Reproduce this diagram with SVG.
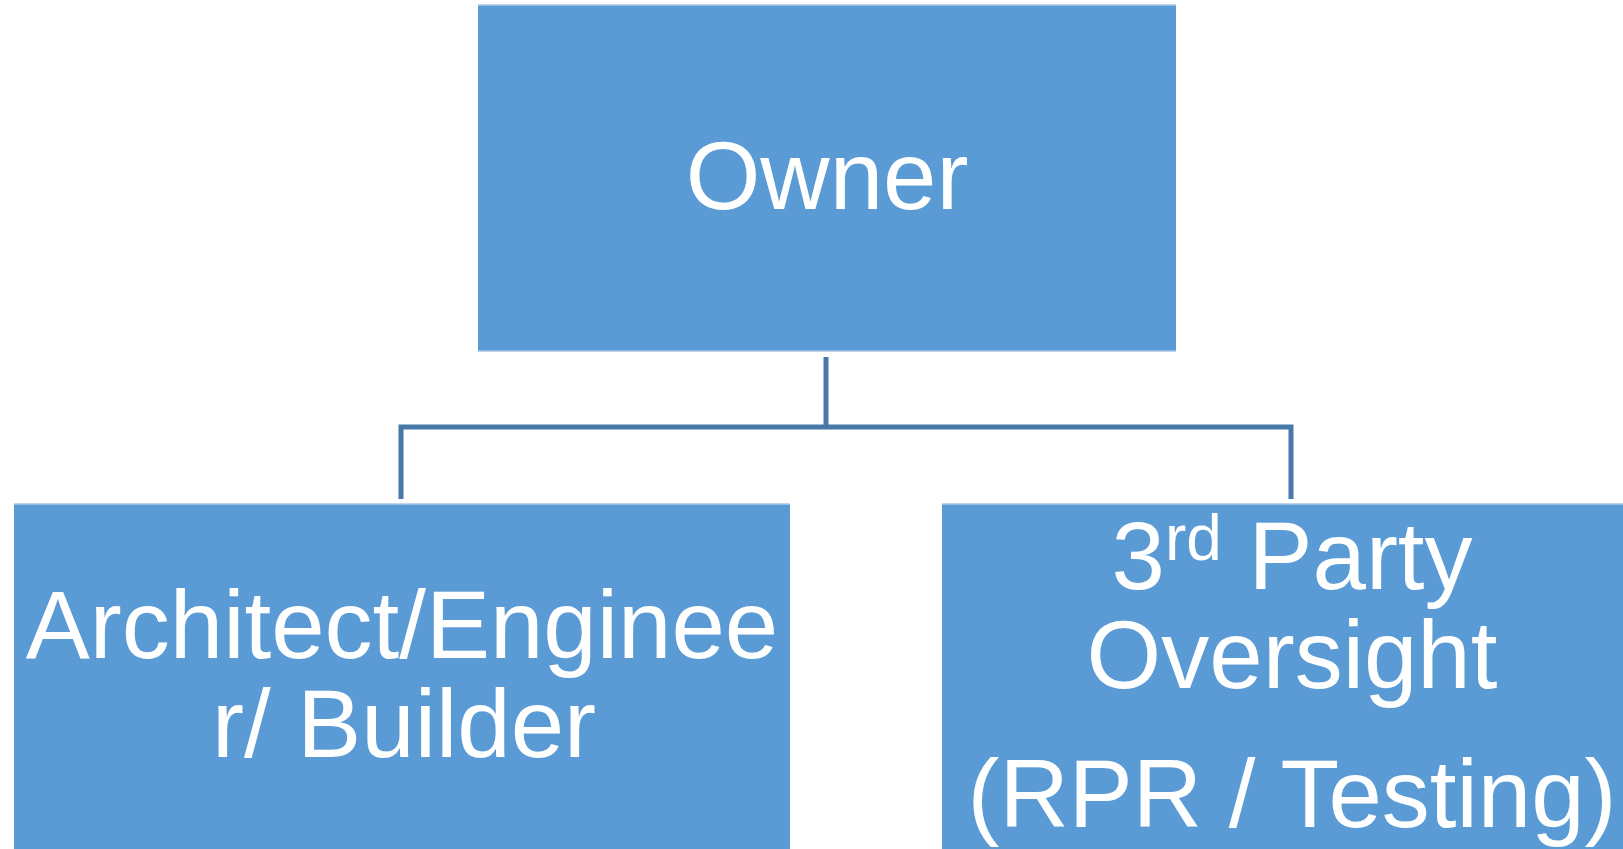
<svg xmlns="http://www.w3.org/2000/svg" width="1623" height="849" viewBox="0 0 1623 849">
<style>
.box{fill:#5B9BD5}
.edge{stroke:#A7C8E8;stroke-width:1.5}
.lbl{font-family:"Liberation Sans",Arial,sans-serif;font-size:96px;fill:#FFFFFF;text-anchor:middle}
.conn{fill:none;stroke:#4778A8;stroke-width:5;stroke-linejoin:miter;stroke-linecap:butt}
</style>
<rect width="1623" height="849" fill="#FFFFFF"/>
<g id="connectors">
<path class="conn" d="M826 357 V427"/>
<path class="conn" d="M401 499 V427 H1291 V499"/>
</g>
<g id="owner">
<rect class="box" x="478" y="5" width="698" height="346"/>
<path class="edge" d="M478 5 H1176 M478 351 H1176"/>
<text class="lbl" x="827" y="209">Owner</text>
</g>
<g id="architect">
<rect class="box" x="14" y="504" width="776" height="360"/>
<path class="edge" d="M14 504 H790"/>
<text class="lbl" x="402" y="658">Architect/Enginee</text>
<text class="lbl" x="404" y="757">r/ Builder</text>
</g>
<g id="oversight">
<rect class="box" x="942" y="504" width="700" height="360"/>
<path class="edge" d="M942 504 H1642"/>
<text class="lbl" x="1292" y="589">3<tspan font-size="64" dy="-29">rd</tspan><tspan dy="29"> Party</tspan></text>
<text class="lbl" x="1292" y="688">Oversight</text>
<text class="lbl" x="1292" y="827">(RPR / Testing)</text>
</g>
</svg>
